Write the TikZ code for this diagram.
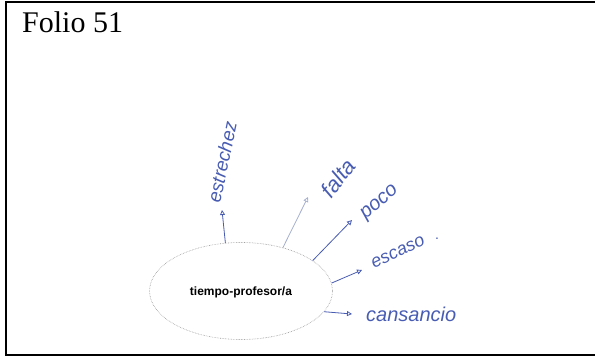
\documentclass[tikz,border=0pt]{standalone}
\usepackage{fontspec}
\setmainfont{Liberation Serif}
\newfontfamily\labelfont{Liberation Sans}
\newfontfamily\handfont{Liberation Sans}
\usetikzlibrary{arrows.meta}
\usetikzlibrary{shapes.geometric}
\definecolor{ink}{RGB}{72,92,178}
\definecolor{inklight}{RGB}{165,175,205}
\definecolor{dotgray}{RGB}{150,150,150}
\tikzset{
  frameline/.style={line width=2pt, black},
  centre/.style={ellipse, draw=dotgray, densely dotted, line width=0.6pt, minimum width=183pt, minimum height=97pt, inner sep=0pt},
  inkarrow/.style={draw=ink, line width=0.8pt, -{Triangle[open, length=5pt, width=5pt]}},
  handtext/.style={text=ink, inner sep=0pt, font=\handfont\itshape},
}
\begin{document}
\begin{tikzpicture}[x=1pt,y=1pt]
\useasboundingbox (0,0) rectangle (595,360);
\draw[frameline] (597,358.5) -- (6,358.5) -- (6,5) -- (597,5);
\node[anchor=base west, inner sep=0pt, font=\fontsize{30}{32}\selectfont] (folio) at (22,328) {Folio 51};

\node[centre] (e) at (241,69) {};
\node[inner sep=0pt, font=\labelfont\bfseries\fontsize{12}{14}\selectfont] (lbl) at (241,68) {tiempo-profesor/a};

\coordinate (t1) at (222,150);
\coordinate (t2) at (308,163);
\coordinate (t3) at (352,140);
\coordinate (t4) at (362,90);
\coordinate (t5) at (352,46);

\draw[inkarrow] (e.108) -- (t1);
\draw[inkarrow, draw=inklight] (e.46) -- (t2);
\draw[inkarrow] (e.23) -- (t3);
\draw[inkarrow] (e.5) -- (t4);
\draw[inkarrow] (e.-14) -- (t5);

\node[handtext, rotate=78, font=\handfont\itshape\fontsize{19}{20}\selectfont] (w1) at (222,198) {estrechez};
\node[handtext, rotate=52, font=\handfont\itshape\fontsize{22}{24}\selectfont] (w2) at (338,182) {falta};
\node[handtext, rotate=40, font=\handfont\itshape\fontsize{20}{22}\selectfont] (w3) at (380,157) {poco};
\node[handtext, rotate=25, font=\handfont\itshape\fontsize{18}{20}\selectfont] (w4) at (398,108) {escaso};
\node[handtext, anchor=west, font=\handfont\itshape\fontsize{20}{22}\selectfont] (w5) at (366,46) {cansancio};
\node[handtext, font=\handfont\fontsize{14}{16}\selectfont] (dot) at (437,121) {.};
\end{tikzpicture}
\end{document}
